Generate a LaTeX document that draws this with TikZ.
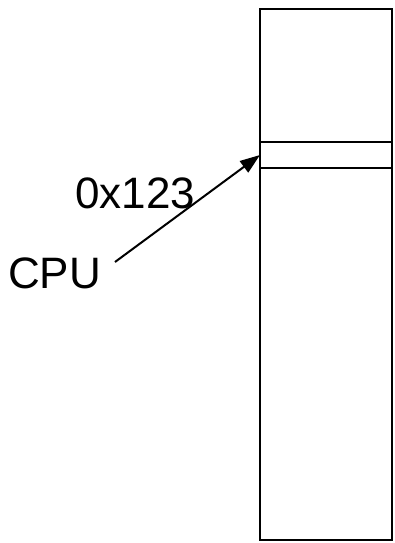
\documentclass[tikz,border=0pt]{standalone}
\usepackage{fontspec}
\setmainfont{Liberation Sans}
\usetikzlibrary{arrows.meta}
\begin{document}
\begin{tikzpicture}[x=1pt,y=-1pt,
  box/.style={draw,line width=2pt,inner sep=0,outer sep=0},
  lbl/.style={font=\fontsize{44}{44}\selectfont,inner sep=0,anchor=base west},
  arr/.style={line width=2pt,-{Triangle[length=20pt,width=14pt]}}]
\useasboundingbox (0,0) rectangle (394,543);
\node[box,minimum width=132pt,minimum height=531pt] (mem) at (326,274.5) {};
\node[box,minimum width=132pt,minimum height=26pt] (slot) at (326,155) {};
\node[lbl] (addr) at (75,208) {0x123};
\node[lbl] (cpu) at (8,288) {CPU};
\coordinate (tail) at (115,262);
\draw[arr] (tail) -- (slot.west);
\end{tikzpicture}
\end{document}
